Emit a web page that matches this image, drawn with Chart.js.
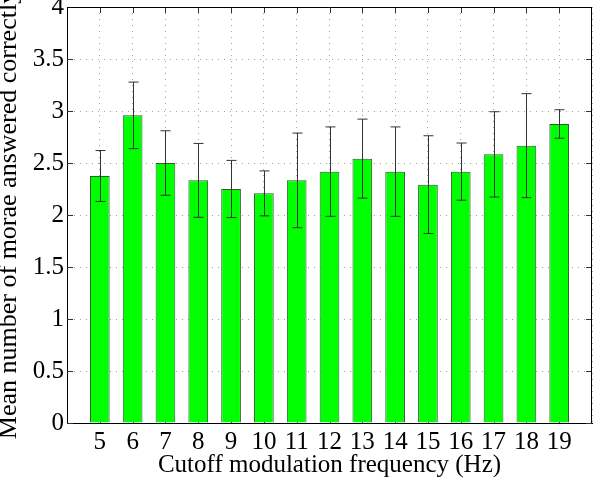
<!DOCTYPE html>
<html>
<head>
<meta charset="utf-8">
<script src="https://cdn.jsdelivr.net/npm/chart.js@4/dist/chart.umd.min.js"></script>
<style>
  html, body { margin: 0; padding: 0; background: #fff; }
  #wrap { width: 594px; height: 484px; }
</style>
</head>
<body>
<div id="wrap"><canvas id="myChart" width="594" height="484"></canvas></div>
<script>
'use strict';

// Data
let freqs = [5, 6, 7, 8, 9, 10, 11, 12, 13, 14, 15, 16, 17, 18, 19];
let means = [2.375, 2.958, 2.5, 2.333, 2.25, 2.208, 2.333, 2.417, 2.542, 2.417, 2.292, 2.417, 2.583, 2.667, 2.875];
let errs = [0.245, 0.32, 0.31, 0.355, 0.275, 0.216, 0.455, 0.43, 0.38, 0.43, 0.47, 0.275, 0.41, 0.5, 0.137];
let yTicks = [0, 0.5, 1, 1.5, 2, 2.5, 3, 3.5, 4];

let fontName = '"Liberation Serif", "DejaVu Serif", serif';

let points = [];
for (let i = 0; i < freqs.length; i++) {
  points.push({ x: freqs[i], y: means[i] });
}

// error bars + matlab style box and inward ticks
let errorBars = {
  id: 'errorBars',
  beforeDatasetsDraw(chart) {
    let ctx = chart.ctx;
    let area = chart.chartArea;
    let xs = chart.scales.x;
    let ys = chart.scales.y;
    ctx.save();
    ctx.strokeStyle = '#333';
    ctx.lineWidth = 1;
    ctx.beginPath();
    for (let i = 0; i < freqs.length; i++) {
      let px = Math.round(xs.getPixelForValue(freqs[i])) + 0.5;
      ctx.moveTo(px, area.top);
      ctx.lineTo(px, area.top + 6);
      ctx.moveTo(px, area.bottom);
      ctx.lineTo(px, area.bottom - 6);
    }
    for (let i = 0; i < yTicks.length; i++) {
      let py = Math.round(ys.getPixelForValue(yTicks[i])) + 0.5;
      ctx.moveTo(area.left, py);
      ctx.lineTo(area.left + 6, py);
      ctx.moveTo(area.right, py);
      ctx.lineTo(area.right - 6, py);
    }
    ctx.stroke();
    ctx.restore();
  },
  afterDatasetsDraw(chart) {
    let ctx = chart.ctx;
    let area = chart.chartArea;
    let meta = chart.getDatasetMeta(0);
    let ys = chart.scales.y;
    ctx.save();
    ctx.strokeStyle = '#333';
    ctx.lineWidth = 1;
    ctx.beginPath();
    for (let i = 0; i < meta.data.length; i++) {
      let px = Math.round(meta.data[i].x) + 0.5;
      let top = ys.getPixelForValue(means[i] + errs[i]);
      let bot = ys.getPixelForValue(means[i] - errs[i]);
      ctx.moveTo(px, top);
      ctx.lineTo(px, bot);
      ctx.moveTo(px - 5, top);
      ctx.lineTo(px + 5, top);
      ctx.moveTo(px - 5, bot);
      ctx.lineTo(px + 5, bot);
    }
    ctx.stroke();
    // top and right side of the box
    ctx.strokeStyle = '#000';
    ctx.beginPath();
    ctx.moveTo(area.left, Math.round(area.top) + 0.5);
    ctx.lineTo(area.right, Math.round(area.top) + 0.5);
    ctx.moveTo(Math.round(area.right) - 0.5, area.top);
    ctx.lineTo(Math.round(area.right) - 0.5, area.bottom);
    ctx.stroke();
    ctx.restore();
  }
};

function chart() {
  let ctx = document.getElementById('myChart');
  // eslint-disable-next-line no-undef
  let myChart = new Chart(ctx, {
    type: 'bar',
    data: {
      datasets: [{
        data: points,
        backgroundColor: '#00ff00',
        borderColor: '#2d5a2d',
        borderWidth: 1,
        barPercentage: 0.6,
        categoryPercentage: 1
      }]
    },
    options: {
      responsive: false,
      animation: false,
      layout: { padding: { left: 0, right: 2, top: 7, bottom: 0 } },
      plugins: {
        legend: { display: false },
        tooltip: { enabled: false }
      },
      scales: {
        x: {
          type: 'linear',
          min: 4,
          max: 20,
          offset: false,
          afterBuildTicks(scale) {
            scale.ticks = [];
            for (let v = 4; v <= 20; v++) scale.ticks.push({ value: v });
          },
          afterFit(scale) {
            scale.height = 61;
            scale.paddingLeft = 0;
            scale.paddingRight = 0;
          },
          ticks: {
            autoSkip: false,
            maxRotation: 0,
            padding: 4,
            color: '#000',
            font: { family: fontName, size: 25 },
            callback: function (v) {
              return freqs.includes(v) ? String(v) : '';
            }
          },
          grid: {
            offset: false,
            drawTicks: false,
            color: '#a0a0a0',
            lineWidth: 1
          },
          border: { display: true, color: '#000', width: 1, dash: [1, 5] },
          title: {
            display: true,
            text: 'Cutoff modulation frequency (Hz)',
            color: '#000',
            font: { family: fontName, size: 25, lineHeight: 1.2 },
            padding: { top: 0, bottom: 4 }
          }
        },
        y: {
          min: 0,
          max: 4,
          afterBuildTicks(scale) {
            scale.ticks = yTicks.map(v => ({ value: v }));
          },
          afterFit(scale) {
            scale.width = 67;
            scale.paddingTop = 0;
            scale.paddingBottom = 0;
          },
          ticks: {
            padding: 3,
            color: '#000',
            font: { family: fontName, size: 25 },
            callback: function (v) {
              return String(v);
            }
          },
          grid: {
            drawTicks: false,
            color: '#a0a0a0',
            lineWidth: 1
          },
          border: { display: true, color: '#000', width: 1, dash: [1, 5] },
          title: {
            display: true,
            text: 'Mean number of morae answered correctly',
            color: '#000',
            font: { family: fontName, size: 26, lineHeight: 0.7 },
            padding: { top: 0, bottom: 0 }
          }
        }
      }
    },
    plugins: [errorBars]
  });
}
chart();
</script>
</body>
</html>
